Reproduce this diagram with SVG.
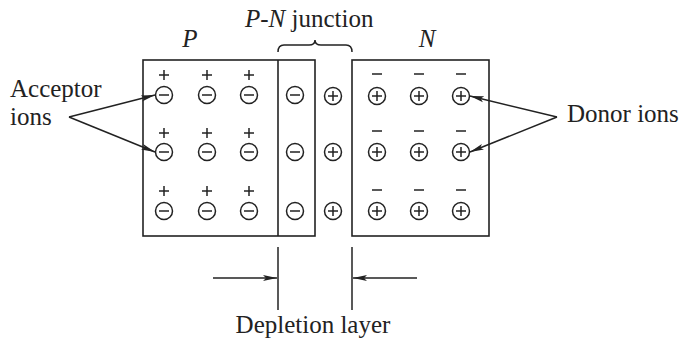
<svg xmlns="http://www.w3.org/2000/svg" width="685" height="342" viewBox="0 0 685 342">
<style>
.t{font-family:"Liberation Serif","Times New Roman",serif;font-size:25px;fill:#222}
.it{font-style:italic}
.box{fill:none;stroke:#222;stroke-width:1.6}
.ion{fill:none;stroke:#222;stroke-width:1.5}
.ln{fill:none;stroke:#222;stroke-width:1.5}
</style>
<defs>
<marker id="ah" markerUnits="userSpaceOnUse" markerWidth="15" markerHeight="8" refX="14" refY="4" orient="auto">
<path d="M0,1 L14,4 L0,7 L3,4 Z" fill="#222"/>
</marker>
<g id="neg"><circle r="8.5" class="ion"/><line x1="-5" y1="0" x2="5" y2="0" class="ion"/></g>
<g id="pos"><circle r="8.5" class="ion"/><line x1="-5" y1="0" x2="5" y2="0" class="ion"/><line x1="0" y1="-5" x2="0" y2="5" class="ion"/></g>
<g id="hole"><line x1="-5" y1="0" x2="5" y2="0" class="ion"/><line x1="0" y1="-5" x2="0" y2="5" class="ion"/></g>
<g id="elec"><line x1="-5" y1="0" x2="5" y2="0" class="ion"/></g>
</defs>

<g id="p-region">
<rect x="143" y="60" width="172" height="176" class="box"/>
<line x1="278" y1="60" x2="278" y2="236" class="box"/>
<text x="190" y="47" class="t it" text-anchor="middle">P</text>
<use href="#hole" x="164" y="75"/><use href="#hole" x="207" y="75"/><use href="#hole" x="249" y="75"/>
<use href="#neg" x="164" y="95"/><use href="#neg" x="207" y="95"/><use href="#neg" x="249" y="95"/>
<use href="#hole" x="164" y="133"/><use href="#hole" x="207" y="133"/><use href="#hole" x="249" y="133"/>
<use href="#neg" x="164" y="152"/><use href="#neg" x="207" y="152"/><use href="#neg" x="249" y="152"/>
<use href="#hole" x="164" y="191"/><use href="#hole" x="207" y="191"/><use href="#hole" x="249" y="191"/>
<use href="#neg" x="164" y="211"/><use href="#neg" x="207" y="211"/><use href="#neg" x="249" y="211"/>
<use href="#neg" x="295" y="95"/><use href="#neg" x="295" y="152"/><use href="#neg" x="295" y="211"/>
</g>

<g id="junction">
<use href="#pos" x="333" y="96"/><use href="#pos" x="333" y="152"/><use href="#pos" x="333" y="211"/>
<path d="M278,52 Q278,45 284,45 L309,45 Q315,45 315,40 Q315,45 321,45 L346,45 Q352,45 352,52" class="ln" stroke-width="1.3"/>
<text x="245" y="27" class="t"><tspan class="it">P-N</tspan> junction</text>
</g>

<g id="n-region">
<rect x="352" y="60" width="137" height="176" class="box"/>
<text x="427" y="47" class="t it" text-anchor="middle">N</text>
<use href="#elec" x="377" y="74"/><use href="#elec" x="419" y="74"/><use href="#elec" x="461" y="74"/>
<use href="#pos" x="377" y="96"/><use href="#pos" x="419" y="96"/><use href="#pos" x="461" y="96"/>
<use href="#elec" x="377" y="131"/><use href="#elec" x="419" y="131"/><use href="#elec" x="461" y="131"/>
<use href="#pos" x="377" y="152"/><use href="#pos" x="419" y="152"/><use href="#pos" x="461" y="152"/>
<use href="#elec" x="377" y="190"/><use href="#elec" x="419" y="190"/><use href="#elec" x="461" y="190"/>
<use href="#pos" x="377" y="211"/><use href="#pos" x="419" y="211"/><use href="#pos" x="461" y="211"/>
</g>

<g id="acceptor-label">
<text x="10" y="97" class="t">Acceptor</text>
<text x="10" y="125" class="t">ions</text>
</g>

<g id="donor-label">
<text x="567" y="122" class="t">Donor ions</text>
</g>

<g id="depletion-label">
<text x="313" y="333" class="t" text-anchor="middle">Depletion layer</text>
<line x1="278" y1="247" x2="278" y2="310" class="ln"/>
<line x1="352" y1="247" x2="352" y2="310" class="ln"/>
</g>

<g id="connectors">
<line x1="69" y1="117" x2="155" y2="95" class="ln" marker-end="url(#ah)"/>
<line x1="69" y1="117" x2="155" y2="152" class="ln" marker-end="url(#ah)"/>
<line x1="557" y1="117" x2="470" y2="96" class="ln" marker-end="url(#ah)"/>
<line x1="557" y1="117" x2="470" y2="152" class="ln" marker-end="url(#ah)"/>
<line x1="213" y1="278" x2="277" y2="278" class="ln" marker-end="url(#ah)"/>
<line x1="417" y1="278" x2="353" y2="278" class="ln" marker-end="url(#ah)"/>
</g>
</svg>
